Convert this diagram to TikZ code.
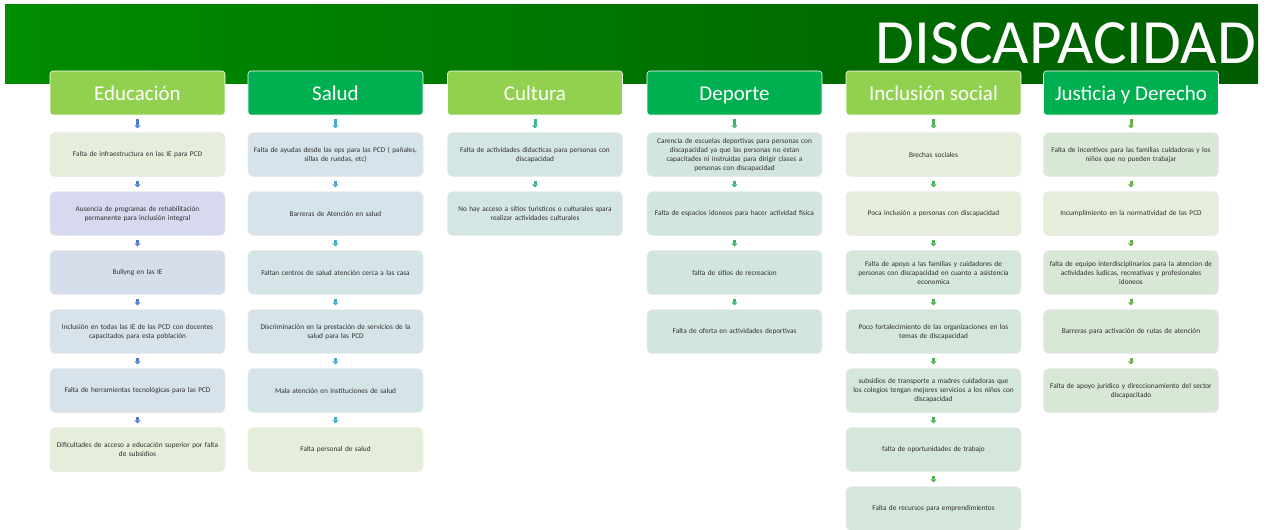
\documentclass[tikz,border=0pt]{standalone}
\usepackage{fontspec}
\setmainfont{Carlito}
\usetikzlibrary{positioning,arrows.meta}

\definecolor{bannerA}{HTML}{008C00}
\definecolor{bannerB}{HTML}{005C00}
\definecolor{lgreen}{HTML}{92D050}
\definecolor{dgreen}{HTML}{00B050}
\definecolor{txt}{HTML}{303030}
% box fills
\definecolor{paleg}{HTML}{E5EEDA}
\definecolor{lila}{HTML}{D7D9EF}
\definecolor{blueg}{HTML}{D7DEEB}
\definecolor{blueh}{HTML}{D7E2EB}
\definecolor{salb}{HTML}{D5E3EA}
\definecolor{salc}{HTML}{D4E4E7}
\definecolor{cult}{HTML}{D4E6E3}
\definecolor{dep}{HTML}{D3E6DD}
\definecolor{inc}{HTML}{D4E7DA}
\definecolor{jus}{HTML}{D8E7D6}
% arrow colours
\definecolor{arE}{HTML}{4A7DCF}
\definecolor{arS}{HTML}{42A9C6}
\definecolor{arC}{HTML}{3AB395}
\definecolor{arD}{HTML}{3CB270}
\definecolor{arI}{HTML}{4DB052}
\definecolor{arJ}{HTML}{66AF45}

\begin{document}
\begin{tikzpicture}[x=1pt,y=-1pt,node distance=14.4pt,
    font=\fontsize{7.3}{9}\selectfont,
    arr/.style={draw=#1,line width=3pt,-{Triangle[width=6pt,length=3pt]},shorten <=4pt,shorten >=4pt}]
  \tikzstyle{head}=[rounded corners=3pt,draw=white,line width=0.6pt,minimum width=175pt,minimum height=44pt,text=white,text height=16pt,text depth=2pt,font=\fontsize{21}{24}\selectfont]
  \tikzstyle{item}=[rounded corners=5pt,draw=black!8,line width=0.6pt,minimum height=44pt,text width=170pt,inner sep=2.5pt,align=center,text=txt]

  \useasboundingbox (0,0) rectangle (1269,530);

  \node[anchor=north west,minimum width=1253pt,minimum height=79pt,inner sep=0pt,
        left color=bannerA,right color=bannerB] (T) at (5,4) {};
  \node[anchor=east,text=white,inner sep=0pt,font=\fontsize{63}{66}\selectfont] (Ti) at (1256,43) {DISCAPACIDAD};

  \node[head,fill=lgreen] (Ed) at (137.5,93) {Educación};
  \node[head,fill=dgreen] (Sa) at (335.5,93) {Salud};
  \node[head,fill=lgreen] (Cu) at (535,93)   {Cultura};
  \node[head,fill=dgreen] (De) at (734.5,93) {Deporte};
  \node[head,fill=lgreen] (In) at (933.5,93) {Inclusión social};
  \node[head,fill=dgreen] (Ju) at (1131,93)  {Justicia y Derecho};

  % Educacion
  \node[item,fill=paleg] (E1) [below=17pt of Ed] {Falta de infraestructura en las IE para PCD};
  \node[item,fill=lila]  (E2) [below=of E1] {Ausencia de programas de rehabilitación\\ permanente para inclusión integral};
  \node[item,fill=blueg] (E3) [below=of E2] {Bullyng en las IE};
  \node[item,fill=blueh] (E4) [below=of E3] {Inclusión en todas las IE de las PCD con docentes\\ capacitados para esta población};
  \node[item,fill=blueh] (E5) [below=of E4] {Falta de herramientas tecnológicas para las PCD};
  \node[item,fill=paleg] (E6) [below=of E5] {Dificultades de acceso a educación superior por falta\\ de subsidios};

  % Salud
  \node[item,fill=salb]  (S1) [below=17pt of Sa] {Falta de ayudas desde las eps para las PCD ( pañales,\\ sillas de ruedas, etc)};
  \node[item,fill=salb]  (S2) [below=of S1] {Barreras de Atención en salud};
  \node[item,fill=salc]  (S3) [below=of S2] {Faltan centros de salud atención cerca a las casa};
  \node[item,fill=salc]  (S4) [below=of S3] {Discriminación en la prestación de servicios de la\\ salud para las PCD};
  \node[item,fill=salc]  (S5) [below=of S4] {Mala atención en instituciones de salud};
  \node[item,fill=paleg] (S6) [below=of S5] {Falta personal de salud};

  % Cultura
  \node[item,fill=cult] (C1) [below=17pt of Cu] {Falta de actividades didacticas para personas con\\ discapacidad};
  \node[item,fill=cult] (C2) [below=of C1] {No hay acceso a sitios turisticos o culturales spara\\ realizar actividades culturales};

  % Deporte
  \node[item,fill=dep] (D1) [below=17pt of De] {Carencia de escuelas deportivas para personas con\\ discapacidad ya que las personas no estan\\ capacitades ni instruidas para dirigir clases a\\ personas con discapacidad};
  \node[item,fill=dep] (D2) [below=of D1] {Falta de espacios idoneos para hacer actividad fisica};
  \node[item,fill=dep] (D3) [below=of D2] {falta de sitios de recreacion};
  \node[item,fill=dep] (D4) [below=of D3] {Falta de oferta en actividades deportivas};

  % Inclusion social
  \node[item,fill=paleg] (I1) [below=17pt of In] {Brechas sociales};
  \node[item,fill=paleg] (I2) [below=of I1] {Poca inclusión a personas con discapacidad};
  \node[item,fill=inc]   (I3) [below=of I2] {Falta de apoyo a las familias y cuidadores de\\ personas con discapacidad en cuanto a asistencia\\ economica};
  \node[item,fill=inc]   (I4) [below=of I3] {Poco fortalecimiento de las organizaciones en los\\ temas de discapacidad};
  \node[item,fill=inc]   (I5) [below=of I4] {subsidios de transporte a madres cuidadoras que\\ los colegios tengan mejores servicios a los niños con\\ discapacidad};
  \node[item,fill=inc]   (I6) [below=of I5] {falta de oportunidades de trabajo};
  \node[item,fill=inc]   (I7) [below=of I6] {Falta de recursos para emprendimientos};

  % Justicia y Derecho
  \node[item,fill=jus]   (J1) [below=17pt of Ju] {Falta de incentivos para las familias cuidadoras y los\\ niños que no pueden trabajar};
  \node[item,fill=paleg] (J2) [below=of J1] {Incumplimiento en la normatividad de las PCD};
  \node[item,fill=jus]   (J3) [below=of J2] {falta de equipo interdisciplinarios para la atencion de\\ actividades ludicas, recreativas y profesionales\\ idoneos};
  \node[item,fill=jus]   (J4) [below=of J3] {Barreras para activación de rutas de atención};
  \node[item,fill=jus]   (J5) [below=of J4] {Falta de apoyo jurídico y direccionamiento del sector\\ discapacitado};

  \path (Ed) edge[arr=arE] (E1)
        (E1) edge[arr=arE] (E2)
        (E2) edge[arr=arE] (E3)
        (E3) edge[arr=arE] (E4)
        (E4) edge[arr=arE] (E5)
        (E5) edge[arr=arE] (E6);
  \path (Sa) edge[arr=arS] (S1)
        (S1) edge[arr=arS] (S2)
        (S2) edge[arr=arS] (S3)
        (S3) edge[arr=arS] (S4)
        (S4) edge[arr=arS] (S5)
        (S5) edge[arr=arS] (S6);
  \path (Cu) edge[arr=arC] (C1)
        (C1) edge[arr=arC] (C2);
  \path (De) edge[arr=arD] (D1)
        (D1) edge[arr=arD] (D2)
        (D2) edge[arr=arD] (D3)
        (D3) edge[arr=arD] (D4);
  \path (In) edge[arr=arI] (I1)
        (I1) edge[arr=arI] (I2)
        (I2) edge[arr=arI] (I3)
        (I3) edge[arr=arI] (I4)
        (I4) edge[arr=arI] (I5)
        (I5) edge[arr=arI] (I6)
        (I6) edge[arr=arI] (I7);
  \path (Ju) edge[arr=arJ] (J1)
        (J1) edge[arr=arJ] (J2)
        (J2) edge[arr=arJ] (J3)
        (J3) edge[arr=arJ] (J4)
        (J4) edge[arr=arJ] (J5);
\end{tikzpicture}
\end{document}
